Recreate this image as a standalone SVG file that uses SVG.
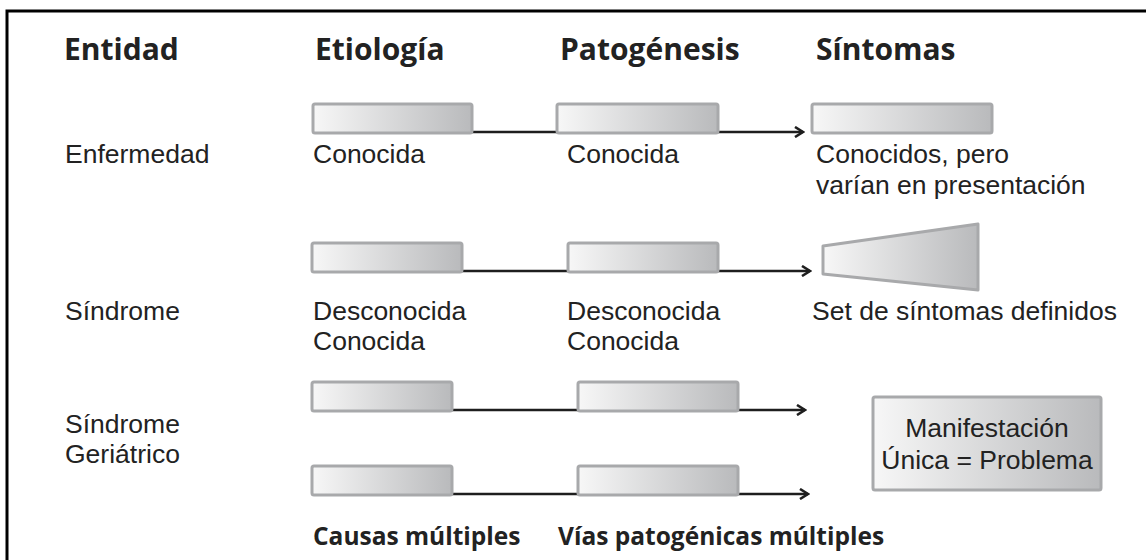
<svg xmlns="http://www.w3.org/2000/svg" width="1146" height="560" viewBox="0 0 1146 560">
<defs>
<linearGradient id="g" x1="0" y1="0" x2="1" y2="0">
<stop offset="0" stop-color="#f7f7f7"/>
<stop offset="1" stop-color="#b9babc"/>
</linearGradient>
<marker id="arr" markerWidth="12" markerHeight="12" refX="10" refY="6" orient="auto" markerUnits="userSpaceOnUse">
<path d="M2,1 L10,6 L2,11" fill="none" stroke="#1e1e1e" stroke-width="2.6"/>
</marker>
<style>
.t{font-family:"Liberation Sans",Arial,sans-serif;font-size:26.5px;fill:#222}
.h{font-family:"Open Sans","Noto Sans",sans-serif;font-size:30px;font-weight:bold;fill:#222}
.b{font-family:"Open Sans","Noto Sans",sans-serif;font-size:24.5px;font-weight:bold;fill:#222}
.bar{fill:url(#g);stroke:#a8a9ab;stroke-width:3}
.ln{stroke:#1e1e1e;stroke-width:2.6;fill:none}
</style>
</defs>
<rect width="1146" height="560" fill="#fff"/>
<path d="M7,560 V11 H1146" fill="none" stroke="#000" stroke-width="3"/>
<g id="headers">
<text class="h" x="64" y="60">Entidad</text>
<text class="h" x="315" y="60">Etiología</text>
<text class="h" x="560" y="60">Patogénesis</text>
<text class="h" x="816" y="60">Síntomas</text>
</g>
<g id="connectors">
<line class="ln" x1="472" y1="132" x2="557" y2="132"/>
<line class="ln" x1="718" y1="132" x2="803" y2="132" marker-end="url(#arr)"/>
<line class="ln" x1="462" y1="271" x2="568" y2="271"/>
<line class="ln" x1="718" y1="271" x2="810" y2="271" marker-end="url(#arr)"/>
<line class="ln" x1="452" y1="410" x2="578" y2="410"/>
<line class="ln" x1="738" y1="410" x2="805" y2="410" marker-end="url(#arr)"/>
<line class="ln" x1="452" y1="494" x2="578" y2="494"/>
<line class="ln" x1="738" y1="494" x2="808" y2="494" marker-end="url(#arr)"/>
</g>
<g id="row-enfermedad">
<text class="t" x="65" y="163">Enfermedad</text>
<rect class="bar" x="313" y="104" width="159" height="29" rx="2"/>
<rect class="bar" x="557" y="104" width="161" height="29" rx="2"/>
<rect class="bar" x="812" y="104" width="180" height="29" rx="2"/>
<text class="t" x="313" y="163">Conocida</text>
<text class="t" x="567" y="163">Conocida</text>
<text class="t" x="816" y="163">Conocidos, pero<tspan x="816" dy="31">varían en presentación</tspan></text>
</g>
<g id="row-sindrome">
<text class="t" x="65" y="320">Síndrome</text>
<rect class="bar" x="312" y="243" width="150" height="29" rx="2"/>
<rect class="bar" x="568" y="243" width="150" height="29" rx="2"/>
<path class="bar" d="M823,246 L978,224 L978,290 L823,274 Z" stroke-linejoin="round"/>
<text class="t" x="313" y="320">Desconocida<tspan x="313" dy="30">Conocida</tspan></text>
<text class="t" x="567" y="320">Desconocida<tspan x="567" dy="30">Conocida</tspan></text>
<text class="t" x="812" y="320">Set de síntomas definidos</text>
</g>
<g id="row-geriatrico">
<text class="t" x="65" y="433">Síndrome<tspan x="65" dy="30">Geriátrico</tspan></text>
<rect class="bar" x="312" y="382" width="140" height="29" rx="2"/>
<rect class="bar" x="578" y="382" width="160" height="29" rx="2"/>
<rect class="bar" x="312" y="466" width="140" height="29" rx="2"/>
<rect class="bar" x="578" y="466" width="160" height="29" rx="2"/>
</g>
<g id="box-manifestacion">
<rect class="bar" x="873" y="397" width="228" height="93" rx="2"/>
<text class="t" x="987" y="437" text-anchor="middle">Manifestación<tspan x="987" dy="32">Única = Problema</tspan></text>
</g>
<g id="footer">
<text class="b" x="313" y="545">Causas múltiples</text>
<text class="b" x="558" y="545">Vías patogénicas múltiples</text>
</g>
</svg>
